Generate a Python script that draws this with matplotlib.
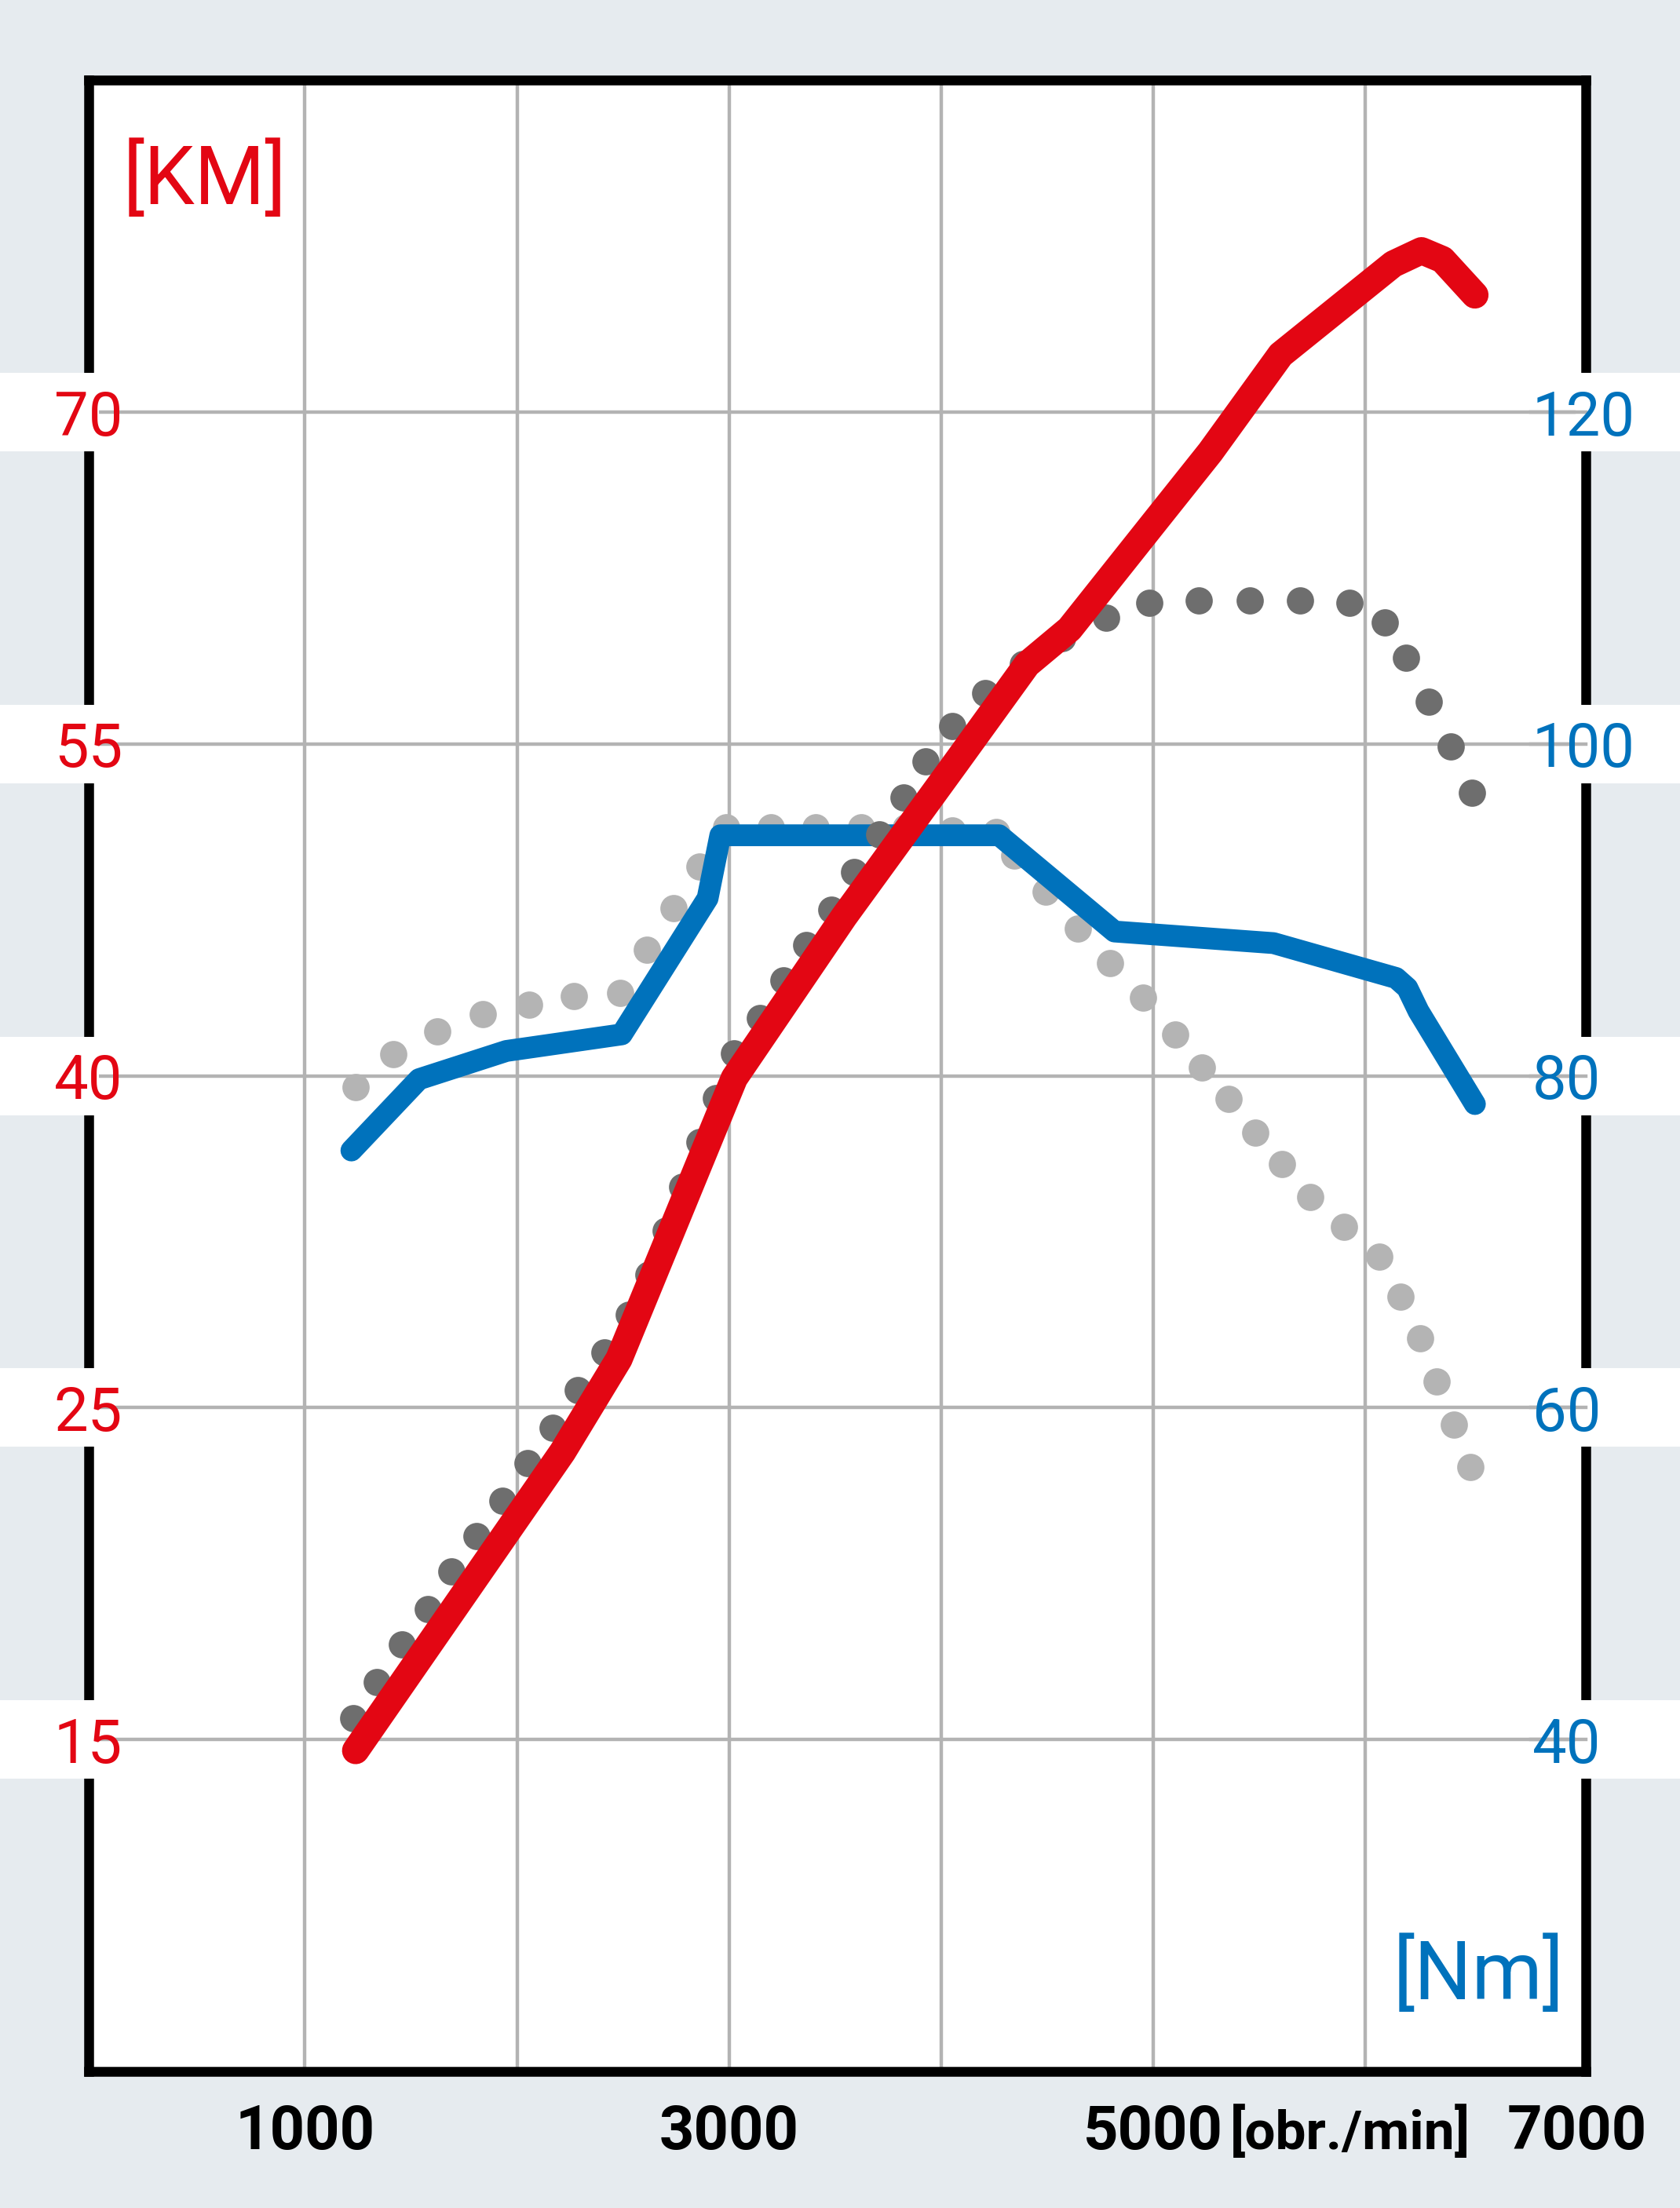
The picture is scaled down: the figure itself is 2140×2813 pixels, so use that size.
import matplotlib
matplotlib.use("Agg")
import matplotlib.pyplot as plt
from matplotlib.patches import Rectangle
from matplotlib.lines import Line2D

FONT = ['Roboto', 'DejaVu Sans']

RED = '#e30613'
BLUE = '#0072bc'
BG = '#e6ebef'

# Power (KM), solid
p_rpm = [1239, 2215, 2481, 3025, 3543, 4074, 4406, 4606, 5004, 5270, 5602, 6133, 6266, 6365, 6518]
p_km = [9.5, 23.0, 27.2, 39.9, 47.2, 54.2, 58.6, 60.2, 65.0, 68.2, 72.6, 76.7, 77.3, 76.9, 75.3]
# Power (KM), dotted reference
pd_rpm = [1226, 1339, 1458, 1578, 1691, 1810, 1930, 2049, 2169, 2288, 2414, 2527, 2620, 2700, 2780,
          2859, 2939, 3025, 3145, 3258, 3364, 3483, 3590, 3709, 3822, 3928, 4054, 4207, 4386, 4572,
          4778, 4984, 5216, 5455, 5694, 5927, 6093, 6192, 6299, 6405, 6505]
pd_km = [10.95, 12.6, 14.3, 15.9, 17.6, 19.2, 20.8, 22.5, 24.1, 25.8, 27.5, 29.2, 31.0, 33.0, 35.0,
         37.0, 39.0, 41.0, 42.6, 44.3, 45.9, 47.5, 49.2, 50.9, 52.6, 54.2, 55.8, 57.3, 58.6, 59.8,
         60.7, 61.4, 61.5, 61.5, 61.5, 61.4, 60.5, 58.9, 56.9, 54.9, 52.8]
# Torque (Nm), solid
t_rpm = [1219, 1538, 1950, 2494, 2899, 2959, 4274, 4818, 5568, 6146, 6199, 6252, 6518]
t_nm = [75.5, 79.8, 81.5, 82.5, 90.7, 94.5, 94.5, 88.7, 88.0, 85.9, 85.3, 83.9, 78.3]
# Torque (Nm), dotted reference
td_rpm = [1239, 1418, 1624, 1837, 2056, 2268, 2487, 2614, 2740, 2859, 2985, 3198, 3410, 3623, 3835,
          4054, 4260, 4346, 4493, 4645, 4798, 4951, 5104, 5230, 5356, 5482, 5608, 5741, 5900, 6066,
          6166, 6259, 6339, 6418, 6498]
td_nm = [79.3, 81.3, 82.7, 83.7, 84.3, 84.8, 85.0, 87.6, 90.1, 92.6, 95.0, 95.0, 95.0, 95.0, 95.0,
         94.8, 94.7, 93.3, 91.1, 88.9, 86.8, 84.7, 82.5, 80.5, 78.6, 76.6, 74.7, 72.7, 70.9, 69.1,
         66.7, 64.2, 61.6, 59.0, 56.4]

x_ticks = [1000, 3000, 5000, 7000]
nm_ticks = [120, 100, 80, 60, 40]
km_labels = ['70', '55', '40', '25', '15']

fig = plt.figure(figsize=(21.4, 28.13), dpi=100)
fig.patch.set_facecolor(BG)
L, R, B, T = 0.0528, 0.9438, 0.0619, 0.9636
ax = fig.add_axes([L, B, R - L, T - B])
ax.set_facecolor('white')
ax.set_xlim(-20, 7040)
ax.set_ylim(20, 140)
ax.set_xticks([1000, 2000, 3000, 4000, 5000, 6000])
ax.set_yticks(nm_ticks)
ax.grid(True, color='#b3b3b3', lw=3.2)
ax.tick_params(left=False, bottom=False, labelleft=False, labelbottom=False)
for s in ax.spines.values():
    s.set_linewidth(9)
    s.set_color('black')
    s.set_zorder(5)

ax2 = ax.twinx()
ax2.set_ylim(0.75 * 20 - 20, 0.75 * 140 - 20)
ax2.axis('off')

ax2.scatter(pd_rpm, pd_km, s=25**2, color='#6e6e6e', zorder=3, linewidths=0)
ax.scatter(td_rpm, td_nm, s=25**2, color='#b4b4b4', zorder=3, linewidths=0)
ax.plot(t_rpm, t_nm, color=BLUE, lw=20, solid_capstyle='round', solid_joinstyle='round', zorder=4)
ax2.plot(p_rpm, p_km, color=RED, lw=25, solid_capstyle='round', solid_joinstyle='round', zorder=4)

# white label bands + labels
for nm, km in zip(nm_ticks, km_labels):
    yf = B + (nm - 20) / 120 * (T - B)
    h = 100 / 2813
    for x0, w in [(0, L + 0.006), (R - 0.006, 1 - R + 0.006)]:
        fig.patches.append(Rectangle((x0, yf - h / 2), w, h, transform=fig.transFigure,
                                     facecolor='white', edgecolor='none', zorder=10))
    fig.add_artist(Line2D([R, 0.911], [yf, yf], color='#b3b3b3', lw=3.2,
                          zorder=11, transform=fig.transFigure))
    fig.text(0.073, yf, km, color=RED, fontsize=56, family=FONT, ha='right', va='center_baseline', zorder=12)
    fig.text(0.912, yf, str(nm), color=BLUE, fontsize=56, family=FONT, ha='left', va='center_baseline', zorder=12)

for xv in x_ticks:
    xf = L + (xv + 20) / 7060 * (R - L)
    fig.text(xf, 0.034, str(xv), color='black', fontsize=56, family=FONT, fontweight='bold',
             ha='center', va='center')
fig.text(L + (5930 + 20) / 7060 * (R - L), 0.034, '[obr./min]', color='black', fontsize=50,
         family=FONT, fontweight='bold', ha='center', va='center')

fig.text(0.073, 0.918, '[KM]', color=RED, fontsize=74, family=FONT, ha='left', va='center')
fig.text(0.931, 0.105, '[Nm]', color=BLUE, fontsize=74, family=FONT, ha='right', va='center')

fig.savefig('out.png', dpi=100, facecolor=BG)
